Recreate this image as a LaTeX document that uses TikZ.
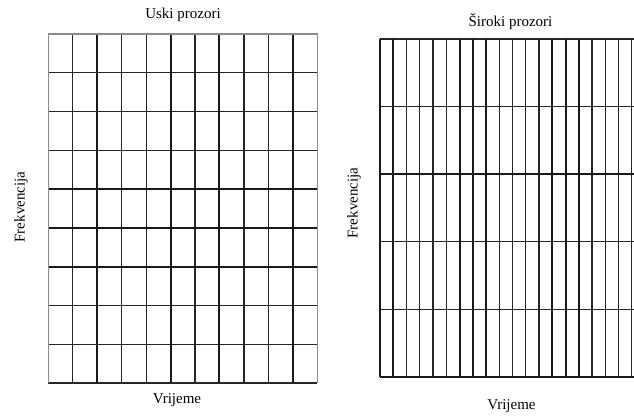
\documentclass[tikz,border=0pt]{standalone}
\usepackage{fontspec}
\setmainfont{Liberation Serif}
\usetikzlibrary{positioning}

\begin{document}
\begin{tikzpicture}[
    x=1pt, y=-1pt,
    every node/.style={font=\fontsize{15}{17}\selectfont, inner sep=0pt},
    gridline/.style={line width=1.2pt, black!85},
    heavyline/.style={line width=2pt, black!90},
    frameline/.style={line width=1.2pt, black!45}
]
\useasboundingbox (0,0) rectangle (634,415);

% narrow windows: 11 x 9 cells
\foreach \i in {0,...,11} {
    \draw[gridline] (48.3+24.45*\i,34) -- (48.3+24.45*\i,383);
}
\foreach \j in {0,...,9} {
    \draw[gridline] (48.3,34+38.78*\j) -- (317.25,34+38.78*\j);
}
\foreach \i in {2,5,7,10} {
    \draw[heavyline] (48.3+24.45*\i,34) -- (48.3+24.45*\i,383);
}
\foreach \j in {4,5,6} {
    \draw[heavyline] (48.3,34+38.78*\j) -- (317.25,34+38.78*\j);
}
\draw[frameline] (48.3,383) -- (48.3,34) -- (317.25,34) -- (317.25,383);

% wide windows: narrow in time, 5 rows
\begin{scope}
\clip (370,30) rectangle (634,390);
\foreach \i in {0,...,19} {
    \draw[gridline] (380+13.25*\i,39) -- (380+13.25*\i,377);
}
\foreach \j in {0,...,5} {
    \draw[gridline] (380,39+67.6*\j) -- (640,39+67.6*\j);
}
\foreach \i in {0,1,6,7,8,13,14,15} {
    \draw[heavyline] (380+13.25*\i,39) -- (380+13.25*\i,377);
}
\foreach \j in {2,5} {
    \draw[heavyline] (380,39+67.6*\j) -- (640,39+67.6*\j);
}
\end{scope}

\node (narrow) at (183,15) {Uski prozori};
\node (wide) at (510.5,22) {Široki prozori};
\node (timeN) at (177,400) {Vrijeme};
\node (timeW) at (511.5,406) {Vrijeme};
\node[rotate=90] (freqN) at (21,207) {Frekvencija};
\node[rotate=90] (freqW) at (354,203) {Frekvencija};
\end{tikzpicture}
\end{document}
